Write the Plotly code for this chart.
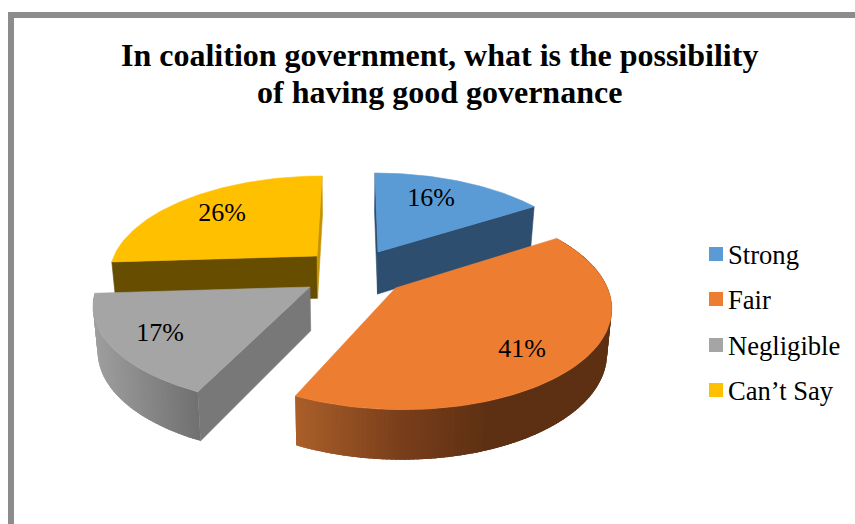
import math
import plotly.graph_objects as go

# Survey results
categories = ["Strong", "Fair", "Negligible", "Can’t Say"]
percentages = [16, 41, 17, 26]

TITLE_LINES = ["In coalition government, what is the possibility", "of having good governance"]
TITLE_Y = [55, 92]
FONT = "Liberation Serif"

top_colors = ["#5B9BD5", "#ED7D31", "#A5A5A5", "#FFC000"]
cut_colors = ["#2E4E6F", "#5F3013", "#787878", "#664D00"]
edge_colors = ["#2E4E6F", "#5F3013", "#787878", "#C49400"]

# Projected placement of each exploded slice: apex, radii, shear
placement = [
    dict(ax=378, ay=252, rx=204, ry=92.4, s=3.5),
    dict(ax=395.5, ay=288, rx=212, ry=101, s=6),
    dict(ax=310, ay=287, rx=213, ry=98, s=-4.7),
    dict(ax=317, ay=256, rx=203, ry=93.6, s=-5.85),
]
PERSPECTIVE = 0.17
VANISH_X = 350
label_xy = [(431, 199), (522, 350), (160, 334), (222, 214)]
legend_y = [254, 299, 345, 390]
LEGEND_X = 716
LEGEND_TEXT_X = 728
LEGEND_TEXT_DY = 3

# Horizontal shading stops along the outer rims (x, colour)
rim_stops = {
    1: [(295, (172, 96, 42)), (400, (122, 63, 27)), (490, (94, 48, 19)), (620, (94, 48, 19))],
    2: [(95, (158, 158, 158)), (200, (112, 112, 112))],
}


def surface_point(p, theta):
    """Screen position on a slice's top face at the given clock angle (degrees)."""
    u = math.sin(math.radians(theta))
    v = -math.cos(math.radians(theta))
    w = 1 / (1 - PERSPECTIVE * v)
    return p["ax"] + (p["rx"] * u + p["s"] * v) * w, p["ay"] + p["ry"] * v * w


def drop(pt):
    """Matching point on the underside of the disc."""
    x, y = pt
    return x - 0.018 * (x - VANISH_X), y + 29.5 + 0.05 * y


def rim_color(stops, x):
    if x <= stops[0][0]:
        c = stops[0][1]
    elif x >= stops[-1][0]:
        c = stops[-1][1]
    else:
        for (x0, c0), (x1, c1) in zip(stops, stops[1:]):
            if x0 <= x <= x1:
                t = (x - x0) / (x1 - x0)
                c = tuple(a + (b - a) * t for a, b in zip(c0, c1))
                break
    return "rgb({:.0f},{:.0f},{:.0f})".format(*c)


def polygon(points, color, name, edge=0.6):
    xs = [p[0] for p in points] + [points[0][0]]
    ys = [p[1] for p in points] + [points[0][1]]
    return go.Scatter(x=xs, y=ys, mode="lines", fill="toself", fillcolor=color,
                      line=dict(color=color, width=edge), name=name,
                      hoverinfo="name", showlegend=False)


fig = go.Figure()

# Slice angles follow the cumulative percentages, clockwise from twelve o'clock
total = sum(percentages)
bounds = []
running = 0
for value in percentages:
    bounds.append((running / total * 360, (running + value) / total * 360))
    running += value

# Back-to-front: yellow, blue, grey, orange
for i in [3, 0, 2, 1]:
    p = placement[i]
    start, end = bounds[i]
    apex = (p["ax"], p["ay"])
    name = f"{categories[i]}: {percentages[i]}%"

    # Cut faces of the wedge
    for theta in (start, end):
        corner = surface_point(p, theta)
        face = [apex, corner, drop(corner), drop(apex)]
        # Each face is only visible on the slices and sides where it looks toward the viewer
        visible = (i == 0) or (i == 3) or (i == 2 and theta == start)
        if visible:
            color = cut_colors[i]
            if (i == 3 and theta == end) or (i == 0 and theta == start):
                color = edge_colors[i]
            fig.add_trace(polygon(face, color, name))

    # Outer rim: overlapping strips laid down in order so no seams show between them
    if i in rim_stops:
        steps = max(int((end - start) / 1.0), 1)
        strip_span = (end - start) / steps
        for k in range(steps):
            a0 = start + strip_span * k
            a1 = min(a0 + 2.5 * strip_span, end)
            t0, t1 = surface_point(p, a0), surface_point(p, a1)
            tm = surface_point(p, (a0 + a1) / 2)
            strip = [t0, tm, t1, drop(t1), drop(tm), drop(t0)]
            fig.add_trace(polygon(strip, rim_color(rim_stops[i], t0[0]), name, edge=0))

    # Top face
    arc = [surface_point(p, start + (end - start) * k / 90) for k in range(91)]
    fig.add_trace(polygon([apex] + arc, top_colors[i], name))

# Percentage labels on the slices
fig.add_trace(go.Scatter(
    x=[c[0] for c in label_xy], y=[c[1] for c in label_xy],
    mode="text", text=[f"{v}%" for v in percentages],
    textposition="middle center",
    textfont=dict(family=FONT, size=26, color="#000000"),
    hoverinfo="skip", showlegend=False))

# Legend column at the right
for name, color, y in zip(categories, top_colors, legend_y):
    fig.add_trace(go.Scatter(
        x=[LEGEND_X], y=[y], mode="markers",
        marker=dict(symbol="square", size=14, color=color),
        name=name, hoverinfo="name", showlegend=False, cliponaxis=False))
    fig.add_trace(go.Scatter(
        x=[LEGEND_TEXT_X], y=[y + LEGEND_TEXT_DY], mode="text", text=[name],
        textposition="middle right",
        textfont=dict(family=FONT, size=26.6, color="#000000"),
        hoverinfo="skip", showlegend=False, cliponaxis=False))

fig.update_layout(
    width=855, height=524,
    margin=dict(l=0, r=0, t=0, b=0),
    paper_bgcolor="#FFFFFF", plot_bgcolor="#FFFFFF",
    xaxis=dict(range=[0, 855], visible=False, fixedrange=True),
    yaxis=dict(range=[524, 0], visible=False, fixedrange=True),
    # Two-line heading with the tighter line spacing of the document
    annotations=[
        dict(text=line, x=439, y=y, xref="x", yref="y", showarrow=False,
             xanchor="center", yanchor="middle",
             font=dict(family=FONT, size=32, color="#000000", weight="bold"))
        for line, y in zip(TITLE_LINES, TITLE_Y)
    ],
    # Chart frame, running past the right and bottom of the page
    shapes=[dict(type="rect", xref="x", yref="y", x0=11, y0=15, x1=900, y1=600,
                 line=dict(color="#8C8C8C", width=6), layer="below")],
)

fig.write_html("out.html")
